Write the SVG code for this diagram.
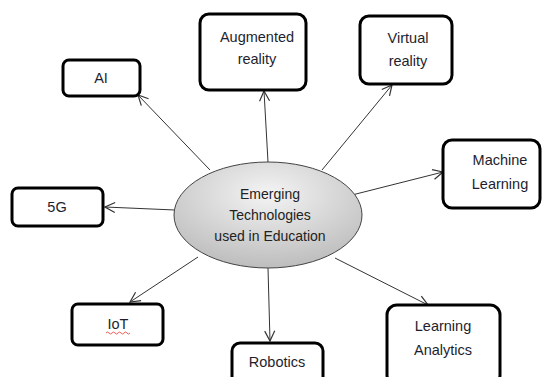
<svg xmlns="http://www.w3.org/2000/svg" width="548" height="377" viewBox="0 0 548 377">
<style>
.box{fill:#fff;stroke:#000;stroke-width:3}
.t{font-family:"Liberation Sans",Arial,sans-serif;font-size:14.5px;fill:#1e1e2e;text-anchor:middle}
.c{font-family:"Liberation Sans",Arial,sans-serif;font-size:14px;fill:#222;text-anchor:middle}
.ln{stroke:#333;stroke-width:1;fill:none;marker-end:url(#ah)}
</style>
<defs>
<marker id="ah" viewBox="0 0 12 12" refX="11" refY="6" markerWidth="12" markerHeight="12" markerUnits="userSpaceOnUse" orient="auto">
<path d="M1,1 L11,6 L1,11" fill="none" stroke="#333" stroke-width="1.2"/>
</marker>
<radialGradient id="eg" cx="50%" cy="30%" r="70%">
<stop offset="0" stop-color="#f4f4f4"/>
<stop offset="1" stop-color="#bdbdbd"/>
</radialGradient>
</defs>
<rect width="548" height="377" fill="#fff"/>
<g id="connectors">
<line class="ln" x1="210" y1="170" x2="138" y2="95"/>
<line class="ln" x1="268" y1="162" x2="264" y2="91"/>
<line class="ln" x1="322" y1="170" x2="392" y2="85"/>
<line class="ln" x1="352" y1="195" x2="443" y2="172"/>
<line class="ln" x1="175" y1="210" x2="105" y2="207"/>
<line class="ln" x1="198" y1="257" x2="130" y2="302"/>
<line class="ln" x1="268" y1="268" x2="270" y2="341"/>
<line class="ln" x1="335" y1="258" x2="428" y2="305"/>
</g>
<g id="center">
<ellipse cx="268" cy="215" rx="94" ry="53" fill="url(#eg)" stroke="#444" stroke-width="1"/>
<text class="c" x="270" y="199">Emerging</text>
<text class="c" x="270" y="220">Technologies</text>
<text class="c" x="270" y="241">used in Education</text>
</g>
<g id="ai">
<rect class="box" x="63" y="60" width="77" height="36" rx="6"/>
<text class="t" x="101" y="83">AI</text>
</g>
<g id="augmented">
<rect class="box" x="200" y="14" width="106" height="76" rx="9"/>
<text class="t" x="257" y="42">Augmented</text>
<text class="t" x="257" y="64">reality</text>
</g>
<g id="virtual">
<rect class="box" x="360" y="16" width="92" height="68" rx="9"/>
<text class="t" x="408" y="43">Virtual</text>
<text class="t" x="408" y="66">reality</text>
</g>
<g id="machine">
<rect class="box" x="443" y="140" width="97" height="68" rx="9"/>
<text class="t" x="500" y="165">Machine</text>
<text class="t" x="500" y="189">Learning</text>
</g>
<g id="fiveg">
<rect class="box" x="12" y="188" width="91" height="38" rx="6"/>
<text class="t" x="57" y="212">5G</text>
</g>
<g id="iot">
<rect class="box" x="72" y="304" width="91" height="41" rx="6"/>
<text class="t" x="118" y="329">IoT</text>
<path d="M106,333 q1.5,-2 3,0 t3,0 t3,0 t3,0 t3,0 t3,0 t3,0 t3,0" fill="none" stroke="#e33" stroke-width="0.8"/>
</g>
<g id="robotics">
<rect class="box" x="232" y="343" width="91" height="45" rx="8"/>
<text class="t" x="277" y="367">Robotics</text>
</g>
<g id="analytics">
<rect class="box" x="387" y="305" width="113" height="80" rx="10"/>
<text class="t" x="443" y="331">Learning</text>
<text class="t" x="443" y="355">Analytics</text>
</g>
</svg>
